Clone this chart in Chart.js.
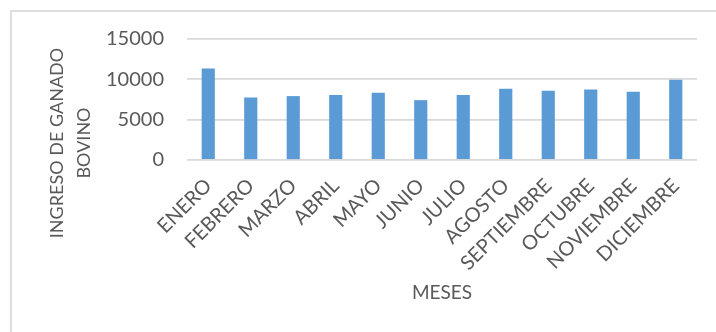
<!DOCTYPE html>
<html>
<head>
<meta charset="utf-8">
<script src="https://cdn.jsdelivr.net/npm/chart.js@4"></script>
<style>
  html, body { margin: 0; padding: 0; background: #fff; }
  #wrap { position: relative; width: 716px; height: 332px; overflow: hidden; }
  #frame { position: absolute; left: 10px; top: 10px; width: 720px; height: 340px;
           border-left: 2px solid #dedede; border-top: 2px solid #dedede; }
  #myCanvas { position: absolute; left: 0; top: 0; }
</style>
</head>
<body>
<div id="wrap">
  <div id="frame"></div>
  <canvas id="myCanvas" width="716" height="332"></canvas>
</div>
<script>
const meses = ["ENERO", "FEBRERO", "MARZO", "ABRIL", "MAYO", "JUNIO", "JULIO",
               "AGOSTO", "SEPTIEMBRE", "OCTUBRE", "NOVIEMBRE", "DICIEMBRE"];
const ingreso = [11330, 7750, 7920, 8050, 8340, 7420, 8050, 8840, 8590, 8750, 8460, 9950];
const yTicks = [0, 5000, 10000, 15000];
const yTitle = ["INGRESO DE GANADO", "BOVINO"];
const xTitle = "MESES";

const fontFamily = "Lato, 'Open Sans', sans-serif";
const textColor = "#595959";

// titulo del eje Y en dos lineas, a la izquierda de las etiquetas
const yTitlePlugin = {
    id: "yTitle",
    afterDraw(chart) {
        const ctx = chart.ctx;
        ctx.save();
        ctx.translate(70, 143);
        ctx.rotate(-Math.PI / 2);
        ctx.fillStyle = textColor;
        ctx.font = "18px " + fontFamily;
        ctx.textAlign = "center";
        ctx.textBaseline = "middle";
        ctx.fillText(yTitle[0], 0, -13);
        ctx.fillText(yTitle[1], 0, 14);
        ctx.restore();
    }
};

const myCanvas = document.getElementById("myCanvas");

const gChart = new Chart(myCanvas, {
    type: "bar",
    data: {
        labels: meses,
        datasets: [{
            data: ingreso,
            backgroundColor: "#5b9bd5",
            barPercentage: 0.31,
            categoryPercentage: 1.0
        }]
    },
    options: {
        responsive: false,
        animation: false,
        layout: {
            padding: { left: 67, right: 19, top: 39, bottom: 28 }
        },
        plugins: {
            legend: { display: false },
            tooltip: { enabled: false }
        },
        scales: {
            x: {
                afterFit: axis => { axis.height = 144; },
                grid: { display: false, drawTicks: false },
                border: { display: false },
                ticks: {
                    color: textColor,
                    font: { family: fontFamily, size: 20 },
                    minRotation: 45,
                    maxRotation: 45,
                    autoSkip: false,
                    padding: 14
                },
                title: {
                    display: true,
                    text: xTitle,
                    color: textColor,
                    font: { family: fontFamily, size: 19 },
                    padding: { top: 12, bottom: 0 }
                }
            },
            y: {
                min: 0,
                max: 15000,
                afterBuildTicks: axis => {
                    axis.ticks = yTicks.map(v => ({ value: v }));
                },
                afterFit: axis => { axis.width = 120; },
                grid: { color: "#d9d9d9", lineWidth: 1.8, drawTicks: false },
                border: { display: false },
                ticks: {
                    color: textColor,
                    font: { family: fontFamily, size: 20 },
                    padding: 23,
                    callback: v => String(v)
                }
            }
        }
    },
    plugins: [yTitlePlugin]
});
</script>
</body>
</html>
